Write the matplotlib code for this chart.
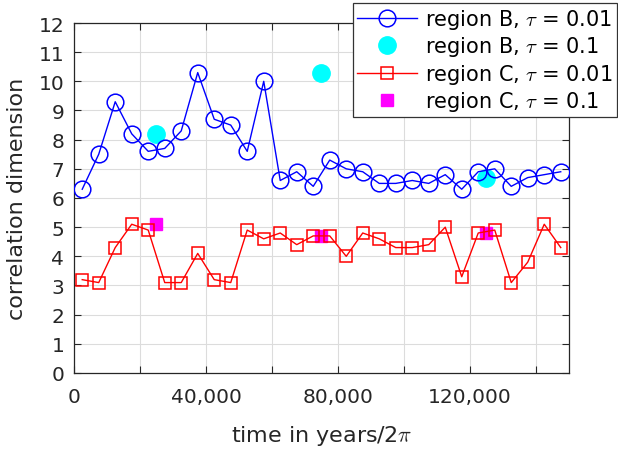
import matplotlib
matplotlib.use("Agg")
import matplotlib.pyplot as plt
from matplotlib.ticker import MultipleLocator, FuncFormatter

plt.rcParams['font.family'] = ['DejaVu Sans']
plt.rcParams['mathtext.fontset'] = 'cm'

time_b = [2500 + 5000 * i for i in range(30)]
dim_b_001 = [6.3, 7.5, 9.3, 8.2, 7.6, 7.7, 8.3, 10.3, 8.7, 8.5,
             7.6, 10.0, 6.6, 6.9, 6.4, 7.3, 7.0, 6.9, 6.5, 6.5,
             6.6, 6.5, 6.8, 6.3, 6.9, 7.0, 6.4, 6.7, 6.8, 6.9]
dim_c_001 = [3.2, 3.1, 4.3, 5.1, 4.9, 3.1, 3.1, 4.1, 3.2, 3.1,
             4.9, 4.6, 4.8, 4.4, 4.7, 4.7, 4.0, 4.8, 4.6, 4.3,
             4.3, 4.4, 5.0, 3.3, 4.8, 4.9, 3.1, 3.8, 5.1, 4.3]
time_01 = [25000, 75000, 125000]
dim_b_01 = [8.2, 10.3, 6.7]
dim_c_01 = [5.1, 4.7, 4.8]

fig = plt.figure(figsize=(6.18, 4.52), dpi=100)
ax = fig.add_axes([0.1197, 0.1726, 0.8010, 0.7743])

tc = '#262626'
ax.plot(time_b, dim_b_001, '-o', color='blue', mfc='none', ms=12, mew=1.1, lw=1.0,
        label=r'region B, $\tau$ = 0.01', zorder=3)
ax.plot(time_01, dim_b_01, 'o', color='cyan', ms=12.5, ls='none',
        label=r'region B, $\tau$ = 0.1', zorder=2)
ax.plot(time_b, dim_c_001, '-s', color='red', mfc='none', ms=8.5, mew=1.1, lw=1.0,
        label=r'region C, $\tau$ = 0.01', zorder=3)
ax.plot(time_01, dim_c_01, 's', color='magenta', ms=9, ls='none',
        label=r'region C, $\tau$ = 0.1', zorder=2)

ax.set_xlim(0, 150000)
ax.set_ylim(0, 12)
ax.xaxis.set_major_locator(MultipleLocator(20000))
ax.xaxis.set_major_formatter(FuncFormatter(
    lambda v, p: (f'{int(v):,}' if int(round(v)) % 40000 == 0 else '')))
ax.yaxis.set_major_locator(MultipleLocator(1))
ax.grid(True, color='#dcdcdc', lw=0.8)
ax.set_axisbelow(True)
ax.tick_params(direction='in', top=True, right=True, labelsize=14.5,
               colors=tc, length=5, width=0.8)
ax.tick_params(axis='x', pad=10)
ax.tick_params(axis='y', pad=7)
for s in ax.spines.values():
    s.set_color(tc)
    s.set_linewidth(0.9)

ax.set_xlabel(r'time in years/2$\pi$', fontsize=16, color=tc, labelpad=12)
ax.set_ylabel('correlation dimension', fontsize=16, color=tc, labelpad=8)

leg = fig.legend(loc='upper right', bbox_to_anchor=(617 / 618, 1 - 4 / 452),
                 bbox_transform=fig.transFigure, fontsize=15,
                 frameon=True, fancybox=False, edgecolor='#333333', framealpha=1,
                 borderpad=0.2, labelspacing=0.16, handlelength=2.9,
                 handletextpad=0.4, borderaxespad=0)
leg.get_frame().set_linewidth(0.9)
leg.set_zorder(10)

fig.savefig('out.png', dpi=100)
